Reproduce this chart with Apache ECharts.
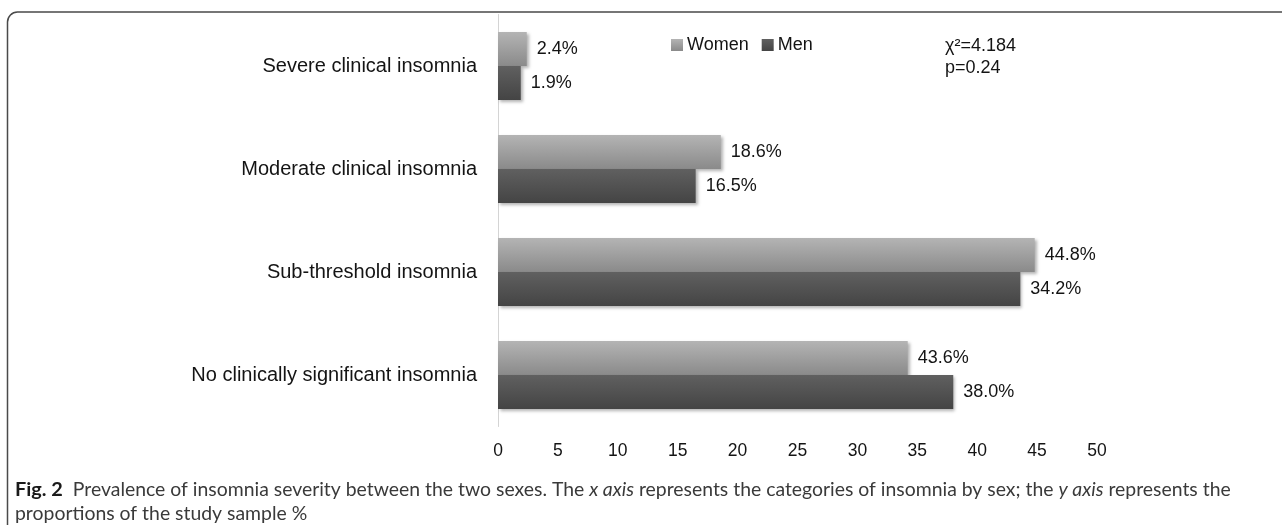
<!DOCTYPE html>
<html><head><meta charset="utf-8">
<script src="https://cdn.jsdelivr.net/npm/echarts@6/dist/echarts.min.js"></script>
<style>html,body{margin:0;padding:0;background:#fff}#c{width:1282px;height:525px}</style>
</head><body><div id="c"></div>
<script>
// ---- data ----
const categories = ['Severe clinical insomnia', 'Moderate clinical insomnia', 'Sub-threshold insomnia', 'No clinically significant insomnia'];
const seriesNames = ['Women', 'Men'];
const womenValues = [2.4, 18.6, 44.8, 34.2];
const menValues = [1.9, 16.5, 43.6, 38.0];
// value labels exactly as printed in the figure
const womenLabels = ['2.4%', '18.6%', '44.8%', '43.6%'];
const menLabels = ['1.9%', '16.5%', '34.2%', '38.0%'];
const xMin = 0, xMax = 50, xInterval = 5;
const statLines = ['χ²=4.184', 'p=0.24'];
const captionLine1 = '{b|Fig. 2}  Prevalence of insomnia severity between the two sexes. The {i|x axis} represents the categories of insomnia by sex; the {i|y axis} represents the';
const captionLine2 = 'proportions of the study sample %';

// ---- font sizing ----
const cv = document.createElement('canvas').getContext('2d');
function w(t, f) { cv.font = f; return cv.measureText(t).width; }
const plain1 = 'Prevalence of insomnia severity between the two sexes. The x axis represents the categories of insomnia by sex; the y axis represents the';
const capFamily = 'Lato';
const capSize = Math.round(17 * 1163 / w(plain1, '17px Lato') * 10) / 10;

const chart = echarts.init(document.getElementById('c'), null, { renderer: 'canvas' });
const baseText = { fontFamily: 'Liberation Sans', color: '#141414' };
function grad(top, bottom) {
  return { type: 'linear', x: 0, y: 0, x2: 0, y2: 1, colorStops: [{ offset: 0, color: top }, { offset: 1, color: bottom }] };
}
chart.setOption({
  animation: false,
  backgroundColor: '#fff',
  grid: { left: 498, right: 185, top: 14.5, bottom: 98.5 },
  legend: {
    data: seriesNames, left: 671, top: 36, padding: 0, icon: 'rect', itemWidth: 12, itemHeight: 12, itemGap: 13,
    textStyle: Object.assign({ fontSize: 18, padding: [0, 0, 0, -1] }, baseText)
  },
  xAxis: {
    type: 'value', min: xMin, max: xMax, interval: xInterval,
    axisLine: { show: false }, axisTick: { show: false }, splitLine: { show: false },
    axisLabel: Object.assign({ fontSize: 17.5, margin: 16 }, baseText)
  },
  yAxis: {
    type: 'category', inverse: true, data: categories,
    axisLine: { show: true, lineStyle: { color: '#d4d4d4', width: 1 } },
    axisTick: { show: false },
    axisLabel: { fontSize: 20, fontFamily: 'Liberation Sans', color: '#141414', margin: 21 }
  },
  series: [
    {
      name: seriesNames[0], type: 'bar', data: womenValues, barWidth: 34, barGap: '0%',
      itemStyle: { color: grad('#b4b4b4', '#8a8a8a'), shadowBlur: 3, shadowOffsetX: 2, shadowOffsetY: 2, shadowColor: 'rgba(0,0,0,0.3)' },
      label: Object.assign({ show: true, position: 'right', distance: 10, fontSize: 18, formatter: p => womenLabels[p.dataIndex] }, baseText)
    },
    {
      name: seriesNames[1], type: 'bar', data: menValues, barWidth: 34, barGap: '0%',
      itemStyle: { color: grad('#606060', '#444444'), shadowBlur: 3, shadowOffsetX: 2, shadowOffsetY: 2, shadowColor: 'rgba(0,0,0,0.3)' },
      label: Object.assign({ show: true, position: 'right', distance: 10, fontSize: 18, formatter: p => menLabels[p.dataIndex] }, baseText)
    }
  ],
  graphic: [
    { type: 'rect', silent: true, shape: { x: 7.5, y: 12, width: 1500, height: 700, r: 10 }, style: { fill: 'none', stroke: '#4a4a4a', lineWidth: 1.5 } },
    { type: 'text', left: 945, top: 37, style: { text: statLines[0], fontSize: 18, fontFamily: 'Liberation Sans', fill: '#141414' } },
    { type: 'text', left: 945, top: 59, style: { text: statLines[1], fontSize: 18, fontFamily: 'Liberation Sans', fill: '#141414' } },
    { type: 'text', left: 15, top: 480, style: {
        text: captionLine1, fontSize: capSize, fontFamily: capFamily, fill: '#3a3a3a',
        rich: { b: { fontWeight: 'bold', fontSize: capSize + 0.5, fontFamily: capFamily, fill: '#1a1a1a' }, i: { fontStyle: 'italic', fontSize: capSize, fontFamily: capFamily, fill: '#3a3a3a' } } } },
    { type: 'text', left: 15, top: 504, style: { text: captionLine2, fontSize: capSize, fontFamily: capFamily, fill: '#3a3a3a' } }
  ]
});
</script></body></html>
